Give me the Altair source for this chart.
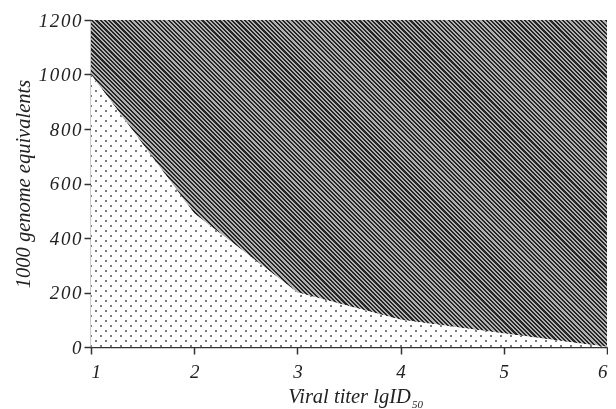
import math
import altair as alt
import pandas as pd

# ---- data ----
viral_titer = [1, 2, 3, 4, 5, 6]
genome_equivalents = [1000, 490, 200, 100, 50, 0]
y_axis_top = [1200, 1200, 1200, 1200, 1200, 1200]
x_ticks = [1, 2, 3, 4, 5, 6]
y_ticks = [0, 200, 400, 600, 800, 1000, 1200]

df = pd.DataFrame({"x": viral_titer, "lower": genome_equivalents, "top": y_axis_top})

W, H = 516, 327
FONT = "Liberation Serif"


def stripes(w, h, direction, period, band, band_color, bg_color):
    """Linear gradient that renders as 45-degree stripes over a w x h bounding box."""
    r = h / w
    a = (1 + r) / (1 + r * r)
    if direction == "back":  # stripes running top-left -> bottom-right
        x1, y1, x2, y2 = 0, 1, a, 1 - a * r
    else:  # stripes running bottom-left -> top-right
        x1, y1, x2, y2 = 0, 0, a, a * r
    D = (w + h) / math.sqrt(2)
    stops = []
    i = 0
    while i * period / D < 1:
        s = i * period / D
        e = min((i * period + band) / D, 1)
        n = min((i + 1) * period / D, 1)
        stops += [(s, band_color), (e, band_color), (e, bg_color), (n, bg_color)]
        i += 1
    return alt.Gradient(
        gradient="linear", x1=x1, y1=y1, x2=x2, y2=y2,
        stops=[alt.GradientStop(offset=round(o, 6), color=c) for o, c in stops],
    )


hatch = stripes(W, H, "back", 3.0, 1.5, "#262626", "#b0b0b0")
lower_h = H * 1000 / 1200
dots_a = stripes(W, lower_h, "back", 7.07, 2.0, "#7a7a7a", "#ffffff")
dots_b = stripes(W, lower_h, "fwd", 7.07, 2.0, "#7a7a7a", "#ffffff")

x_enc = alt.X(
    "x:Q",
    scale=alt.Scale(domain=[1, 6], nice=False, zero=False),
    axis=alt.Axis(values=x_ticks, title="Viral titer lgID", labelPadding=8, titlePadding=5),
)
y_scale = alt.Scale(domain=[0, 1200], nice=False)
y_axis = alt.Axis(
    values=y_ticks, format="d", title="1000 genome equivalents",
    labelExpr="join(split(datum.label, ''), '\u200a')",
    labelPadding=3, titlePadding=5,
)

upper = alt.Chart(df).mark_area(fill=hatch).encode(
    x=x_enc,
    y=alt.Y("top:Q", scale=y_scale, axis=y_axis),
    y2="lower:Q",
)
lower_a = alt.Chart(df).mark_area(fill=dots_a).encode(
    x=x_enc, y=alt.Y("lower:Q", scale=y_scale, axis=y_axis)
)
lower_b = alt.Chart(df).mark_area(fill=dots_b, blend="lighten").encode(
    x=x_enc, y=alt.Y("lower:Q", scale=y_scale, axis=y_axis)
)
subscript = alt.Chart(pd.DataFrame({"t": ["50"]})).mark_text(
    font=FONT, fontStyle="italic", fontSize=11, align="left", baseline="middle", color="#222222"
).encode(x=alt.value(321), y=alt.value(385), text="t:N")

chart = (
    alt.layer(upper, lower_a, lower_b, subscript)
    .properties(
        width=W,
        height=H,
        autosize="none",
        padding={"left": 83, "top": 12, "right": 1, "bottom": 62},
        background="white",
    )
    .configure_view(stroke=None)
    .configure_axis(
        grid=False,
        domainColor="#333333",
        domainWidth=1.5,
        tickColor="#333333",
        tickWidth=1.5,
        tickSize=7,
        labelFont=FONT,
        labelFontStyle="italic",
        labelFontSize=19,
        labelColor="#222222",
        titleFont=FONT,
        titleFontStyle="italic",
        titleFontWeight="normal",
        titleFontSize=20.5,
        titleColor="#222222",
        zindex=1,
    )
)

chart.save("out.html", embed_options={"renderer": "svg", "actions": False})
